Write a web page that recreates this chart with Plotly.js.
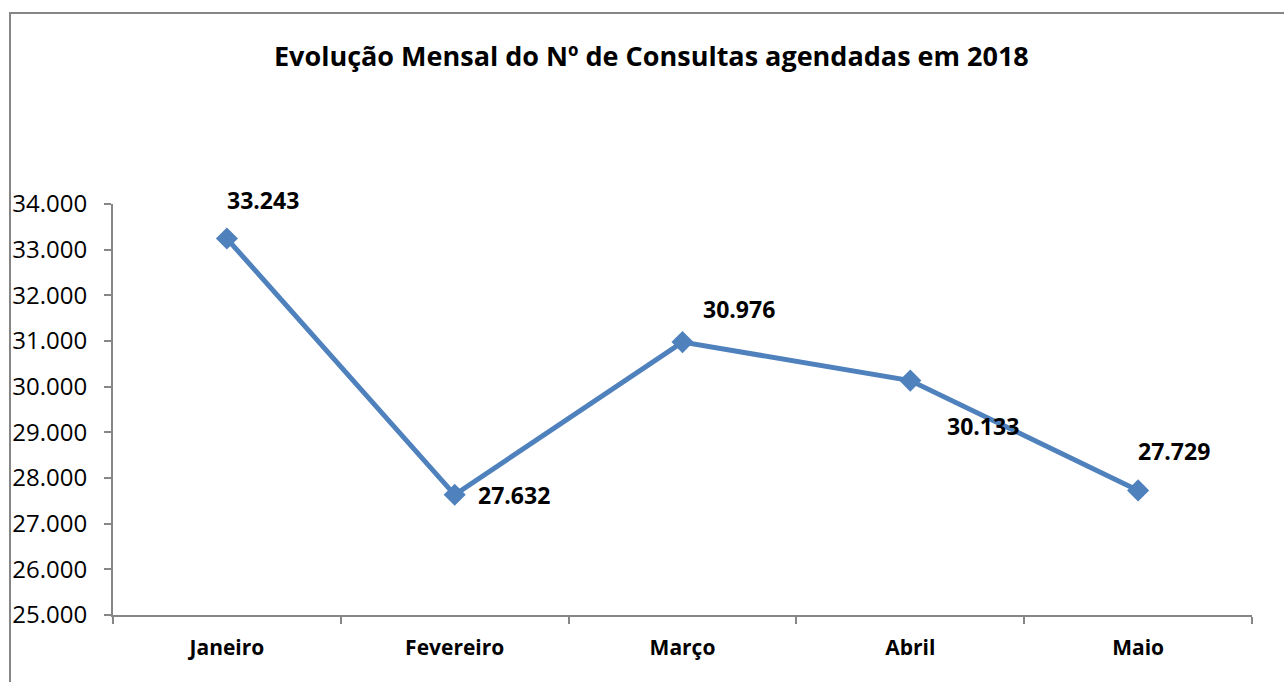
<!DOCTYPE html>
<html>
<head>
<meta charset="utf-8">
<script src="https://cdn.plot.ly/plotly-3.0.1.min.js"></script>
<style>
html,body{margin:0;padding:0;background:#fff;}
#chart{width:1284px;height:682px;}
</style>
</head>
<body>
<div id="chart"></div>
<script>
// Data
const months = ["Janeiro", "Fevereiro", "Março", "Abril", "Maio"];
const consultas = [33243, 27632, 30976, 30133, 27729];
const yTickValues = [25000, 26000, 27000, 28000, 29000, 30000, 31000, 32000, 33000, 34000];
const chartTitle = "Evolução Mensal do Nº de Consultas agendadas em 2018";

// Label offsets (style, pixels)
const labelShiftX = [36, 59, 56, 73, 36];
const labelShiftY = [39, 0, 33, -45, 39];

function fmt(v) {
  return String(v).replace(/\B(?=(\d{3})+(?!\d))/g, ".");
}

const W = 1284, H = 682;
const margin = {l: 113, r: 32, t: 204, b: 67, pad: 0};
const plotW = W - margin.l - margin.r;
const plotH = H - margin.t - margin.b;

const FONT = "Open Sans, Noto Sans, sans-serif";

const trace = {
  type: "scatter",
  mode: "lines+markers",
  x: months,
  y: consultas,
  line: {color: "#4F81BD", width: 5},
  marker: {symbol: "diamond", size: 17, color: "#4F81BD"},
  hoverinfo: "skip",
  cliponaxis: false
};

const annotations = months.map((m, i) => ({
  x: m, y: consultas[i], xref: "x", yref: "y",
  text: "<b>" + fmt(consultas[i]) + "</b>",
  showarrow: false,
  xshift: labelShiftX[i], yshift: labelShiftY[i],
  font: {family: FONT, size: 23, color: "#000"}
}));

annotations.push({
  xref: "paper", yref: "paper",
  x: (651 - margin.l) / plotW, y: (H - margin.b - 55) / plotH,
  text: "<b>" + chartTitle + "</b>",
  showarrow: false, xanchor: "center", yanchor: "middle",
  font: {family: FONT, size: 27, color: "#000"}
});

const layout = {
  width: W, height: H,
  margin: margin,
  paper_bgcolor: "#fff", plot_bgcolor: "#fff",
  showlegend: false,
  font: {family: FONT, color: "#000"},
  xaxis: {
    type: "category",
    range: [-0.5, 4.5],
    showgrid: false, zeroline: false,
    showline: true, linecolor: "#868686", linewidth: 2,
    ticks: "outside", ticklen: 7, tickcolor: "#868686", tickwidth: 2,
    tickson: "boundaries",
    ticklabelstandoff: 13,
    tickfont: {family: FONT, size: 21, color: "#000", weight: "bold"},
    fixedrange: true
  },
  yaxis: {
    range: [25000, 34000],
    tickvals: yTickValues,
    ticktext: yTickValues.map(fmt),
    showgrid: false, zeroline: false,
    showline: true, linecolor: "#868686", linewidth: 2,
    ticks: "outside", ticklen: 7, tickcolor: "#868686", tickwidth: 2,
    ticklabelstandoff: 12,
    tickfont: {family: FONT, size: 24, color: "#000"},
    fixedrange: true
  },
  shapes: [{
    type: "rect", xref: "paper", yref: "paper",
    x0: (10 - margin.l) / plotW, x1: (W + 20 - margin.l) / plotW,
    y0: (H - margin.b - (H + 20)) / plotH, y1: (H - margin.b - 13) / plotH,
    line: {color: "#868686", width: 2}, fillcolor: "rgba(0,0,0,0)", layer: "below"
  }],
  annotations: annotations
};

Plotly.newPlot("chart", [trace], layout, {displayModeBar: false, staticPlot: true});
</script>
</body>
</html>
